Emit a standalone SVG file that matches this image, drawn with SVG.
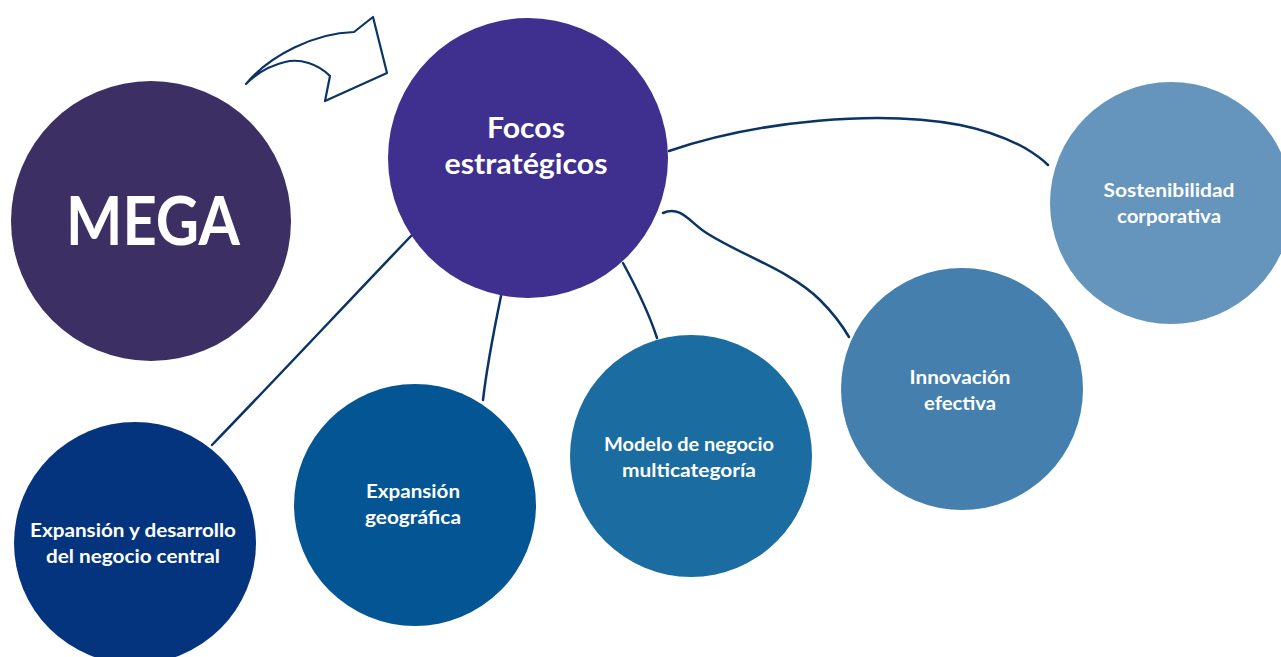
<svg xmlns="http://www.w3.org/2000/svg" width="1281" height="657" viewBox="0 0 1281 657">
<style>
.lbl{font-family:Lato,"Open Sans","Liberation Sans",sans-serif;font-weight:700;fill:#fff;text-anchor:middle}
.s{font-size:18px}
.conn{fill:none;stroke:#0b3466;stroke-width:2.5;stroke-linecap:round}
</style>
<rect width="1281" height="657" fill="#fff"/>
<g id="connectors">
<path class="conn" d="M669,151 C760,120 880,110 960,125 C990,131 1010,140 1025,148"/>
<path class="conn" d="M1025,148 C1035,154 1042,159 1048,165" stroke-width="1.2" stroke="#5d7fa6"/>
<path class="conn" d="M663,213 C680,205 690,222 705,232 C740,255 790,270 820,300 C832,312 842,325 849,337"/>
<path class="conn" d="M623,263 C635,285 648,310 657,338"/>
<path class="conn" d="M501,296 C494,330 487,365 483,400"/>
<path class="conn" d="M411,236 C345,305 275,380 212,445"/>
<path id="arrow" fill="none" stroke="#0b3466" stroke-width="2.2" stroke-linejoin="round" d="M246,84 C270,55 315,33 354,32 L373,17 L387,73 L325,101 L330,76 C318,64 300,58 285,62 C268,66 255,75 246,84 Z"/>
</g>
<g id="mega">
<circle cx="151" cy="221" r="140" fill="#3b2f63"/>
<text class="lbl" x="153" y="245" font-size="66" font-weight="900" textLength="174" lengthAdjust="spacingAndGlyphs">MEGA</text>
</g>
<g id="focos">
<circle cx="528" cy="158" r="140" fill="#3f2f8e"/>
<text class="lbl" x="526" y="138" font-size="28" textLength="78" lengthAdjust="spacingAndGlyphs">Focos</text>
<text class="lbl" x="526" y="174" font-size="28" textLength="163" lengthAdjust="spacingAndGlyphs">estratégicos</text>
</g>
<g id="expansion-central">
<circle cx="135" cy="543" r="121" fill="#04347e"/>
<text class="lbl s" x="133" y="537" textLength="206" lengthAdjust="spacingAndGlyphs">Expansión y desarrollo</text>
<text class="lbl s" x="133" y="563" textLength="174" lengthAdjust="spacingAndGlyphs">del negocio central</text>
</g>
<g id="expansion-geo">
<circle cx="415" cy="505" r="121" fill="#035594"/>
<text class="lbl s" x="413" y="498" textLength="94" lengthAdjust="spacingAndGlyphs">Expansión</text>
<text class="lbl s" x="413" y="524" textLength="96" lengthAdjust="spacingAndGlyphs">geográfica</text>
</g>
<g id="modelo">
<circle cx="691" cy="456" r="121" fill="#1a6ca1"/>
<text class="lbl s" x="689" y="451" textLength="170" lengthAdjust="spacingAndGlyphs">Modelo de negocio</text>
<text class="lbl s" x="689" y="477" textLength="134" lengthAdjust="spacingAndGlyphs">multicategoría</text>
</g>
<g id="innovacion">
<circle cx="962" cy="389" r="121" fill="#447fae"/>
<text class="lbl s" x="960" y="384" textLength="101" lengthAdjust="spacingAndGlyphs">Innovación</text>
<text class="lbl s" x="960" y="410" textLength="72" lengthAdjust="spacingAndGlyphs">efectiva</text>
</g>
<g id="sostenibilidad">
<circle cx="1171" cy="203" r="121" fill="#6594bd"/>
<text class="lbl s" x="1169" y="197" textLength="131" lengthAdjust="spacingAndGlyphs">Sostenibilidad</text>
<text class="lbl s" x="1169" y="223" textLength="104" lengthAdjust="spacingAndGlyphs">corporativa</text>
</g>
</svg>
